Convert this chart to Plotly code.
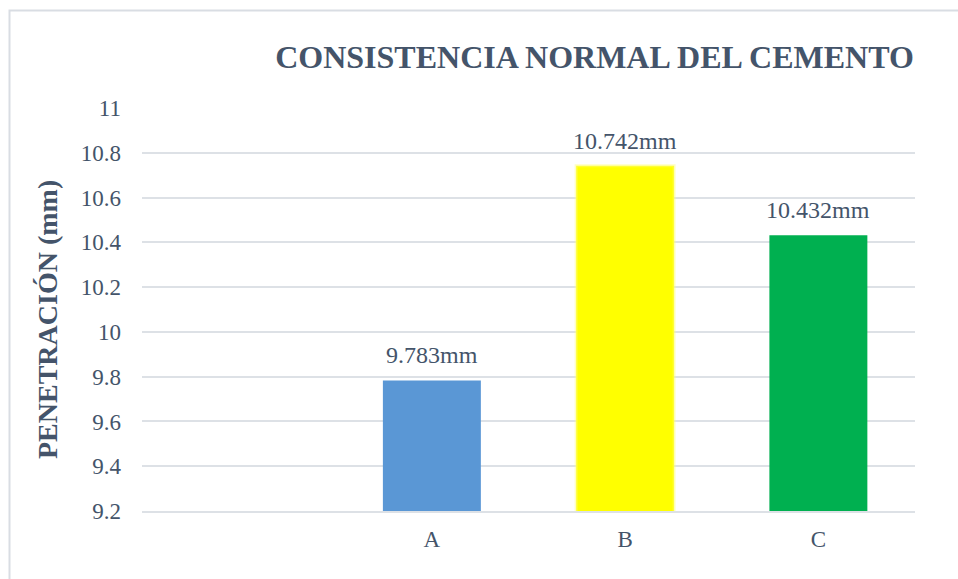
import plotly.graph_objects as go

categories = ["A", "B", "C"]
values = [9.783, 10.742, 10.432]
bar_colors = ["#5a97d5", "#ffff00", "#00b050"]
y_ticks = [9.2, 9.4, 9.6, 9.8, 10, 10.2, 10.4, 10.6, 10.8, 11]
y_tick_labels = ["9.2", "9.4", "9.6", "9.8", "10", "10.2", "10.4", "10.6", "10.8", "11"]
title_text = "CONSISTENCIA NORMAL DEL CEMENTO"
y_title = "PENETRACIÓN (mm)"
unit = "mm"

TEXT = "#44546a"
FONT = "Liberation Serif, Times New Roman, serif"

fig = go.Figure()
fig.add_trace(go.Bar(
    x=categories,
    y=values,
    width=0.507,
    marker=dict(
        color=bar_colors,
        line=dict(color=["rgba(0,0,0,0)", "rgba(255,255,120,0.45)", "rgba(0,0,0,0)"],
                  width=[0, 3, 0]),
    ),
    hoverinfo="skip",
    showlegend=False,
))

for c, v in zip(categories, values):
    fig.add_annotation(
        x=c, y=v, xref="x", yref="y",
        text=f"{v:.3f}{unit}",
        showarrow=False,
        yanchor="bottom",
        yshift=10,
        font=dict(family=FONT, size=24, color=TEXT),
    )

# y-axis title (placed as in the reference, slightly below the plot centre)
fig.add_annotation(
    x=(47 - 142) / 773, y=(511 - 320) / 403, xref="paper", yref="paper",
    text=f"<b>{y_title}</b>", textangle=-90, showarrow=False,
    xanchor="center", yanchor="middle",
    font=dict(family=FONT, size=28, color=TEXT),
)

fig.update_layout(
    width=958, height=579,
    margin=dict(l=142, r=43, t=108, b=68, autoexpand=False),
    paper_bgcolor="white",
    plot_bgcolor="white",
    title=dict(
        text=f"<b>{title_text}</b>",
        x=594.5 / 958, xanchor="center", xref="container",
        y=1 - 57 / 579, yanchor="middle", yref="container",
        font=dict(family=FONT, size=32, color=TEXT),
    ),
    xaxis=dict(
        type="category",
        range=[-1.5, 2.5],
        showgrid=False,
        showline=True, linecolor="#dde1e6", linewidth=2,
        ticks="", ticklabelstandoff=6,
        tickfont=dict(family=FONT, size=23, color=TEXT),
        zeroline=False,
    ),
    yaxis=dict(
        range=[9.2, 11],
        tickvals=y_ticks,
        ticktext=y_tick_labels,
        showgrid=True, gridcolor="#dde1e6", gridwidth=2,
        zeroline=False, showline=False,
        ticks="", ticklabelstandoff=20,
        tickfont=dict(family=FONT, size=23, color=TEXT),
    ),
    bargap=0.49,
)

# outer chart frame
fig.add_shape(
    type="rect", xref="paper", yref="paper",
    x0=(9.5 - 142) / 773, x1=1.2, y0=-0.3, y1=(511 - 10.5) / 403,
    line=dict(color="#d9dde3", width=2), fillcolor="rgba(0,0,0,0)",
    layer="below",
)

fig.write_html("out.html")
